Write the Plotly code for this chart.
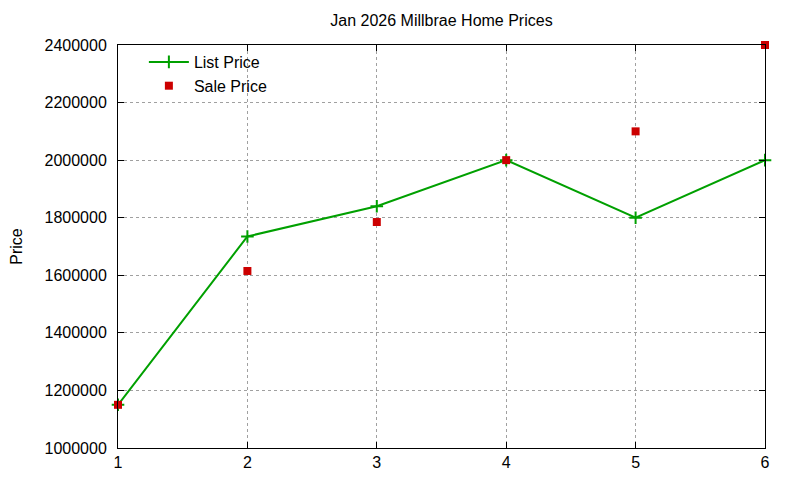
import plotly.graph_objects as go

# Jan 2026 Millbrae listings, index 1..6
home_index = [1, 2, 3, 4, 5, 6]
list_price = [1150000, 1735000, 1840000, 2000000, 1800000, 2000000]
sale_price = [1150000, 1615000, 1785000, 2000000, 2100000, 2400000]

y_ticks = list(range(1000000, 2400001, 200000))

FONT = "Liberation Sans, Arial, sans-serif"
GREEN = "#00a000"
RED = "#cc0000"

# page body has an 8px margin, so the figure is a little smaller than the window
W, H = 792, 472

fig = go.Figure()
fig.add_trace(
    go.Scatter(
        x=home_index,
        y=list_price,
        name="List Price",
        mode="lines+markers",
        line={"color": GREEN, "width": 2},
        marker={"symbol": "cross-thin", "size": 9, "line": {"color": GREEN, "width": 2}},
        cliponaxis=False,
    )
)
fig.add_trace(
    go.Scatter(
        x=home_index,
        y=sale_price,
        name="Sale Price",
        mode="markers",
        marker={"symbol": "square", "size": 8, "color": RED},
        cliponaxis=False,
    )
)

axis_common = {
    "showline": True,
    "linecolor": "black",
    "linewidth": 1,
    "mirror": "ticks",
    "ticks": "inside",
    "ticklen": 6,
    "tickcolor": "black",
    "showgrid": True,
    "gridcolor": "#a0a0a0",
    "griddash": "dot",
    "gridwidth": 1,
    "zeroline": False,
    "tickfont": {"family": FONT, "size": 16, "color": "black"},
}

fig.update_xaxes(range=[1, 6], tickvals=home_index, **axis_common)
fig.update_yaxes(
    range=[1000000, 2400000],
    tickvals=y_ticks,
    tickformat="d",
    ticklabelstandoff=7,
    title={"text": "Price", "font": {"family": FONT, "size": 16, "color": "black"}, "standoff": 29},
    **axis_common,
)

fig.update_layout(
    width=W,
    height=H,
    margin={"l": 110, "r": 35, "t": 37, "b": 32, "autoexpand": False},
    paper_bgcolor="white",
    plot_bgcolor="white",
    title={
        "text": "Jan 2026 Millbrae Home Prices",
        "x": (110 + W - 35) / 2 / W,
        "xanchor": "center",
        "y": 1 - 12 / H,
        "yanchor": "middle",
        "yref": "container",
        "font": {"family": FONT, "size": 16, "color": "black"},
    },
    legend={
        "x": 0.04,
        "y": 1.0,
        "xanchor": "left",
        "yanchor": "top",
        "bgcolor": "rgba(0,0,0,0)",
        "font": {"family": FONT, "size": 16, "color": "black"},
        "tracegroupgap": 0,
        "itemwidth": 40,
    },
    showlegend=True,
)

fig.write_html("out.html")
